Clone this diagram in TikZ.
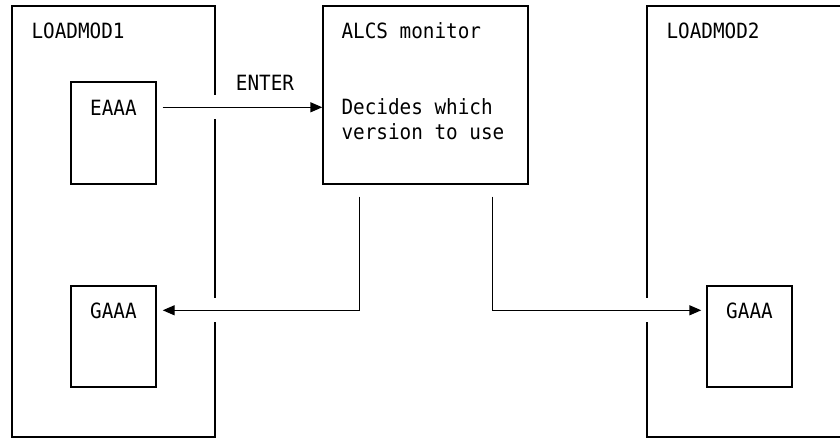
\documentclass[tikz,border=0pt]{standalone}
\usepackage{fontspec}
\setmonofont[FakeStretch=0.92]{DejaVu Sans Mono}
\usetikzlibrary{arrows.meta,calc,positioning}

\tikzset{
  modbox/.style={draw, line width=1.4pt, inner sep=0pt, minimum width=#1, minimum height=431pt},
  progbox/.style={draw, line width=1.4pt, inner sep=0pt, minimum width=85pt, minimum height=101pt},
  lbl/.style={inner sep=0pt, anchor=base west, font=\ttfamily\fontsize{21}{25}\selectfont},
  flow/.style={line width=1.4pt, -{Triangle[length=12pt,width=10pt]}},
  gap/.style={draw=white, line width=4pt}
}

\begin{document}
\begin{tikzpicture}[x=1pt, y=-1pt]
    \useasboundingbox (0,0) rectangle (840,438);

    % load modules
    \node[modbox=203pt] (lm1) at (113.5,221.5) {};
    \node[modbox=213pt] (lm2) at (753.5,221.5) {};
    \node[lbl] (lm1name) at ($(lm1.north west)+(20,33)$) {LOADMOD1};
    \node[lbl] (lm2name) at ($(lm2.north west)+(20,33)$) {LOADMOD2};

    % monitor
    \node[draw, line width=1.4pt, inner sep=0pt, minimum width=205pt, minimum height=178pt] (alcs) at (425.5,95) {};
    \node[lbl] (alcsname) at ($(alcs.north west)+(19,33)$) {ALCS monitor};
    \node[lbl, align=left] (alcstext) at ($(alcs.north west)+(19,134)$) {Decides which\\version to use};

    % programs
    \node[progbox, minimum height=102pt] (eaaa) at (113.5,133) {};
    \node[progbox] (gaaal) at (113.5,336.5) {};
    \node[progbox] (gaaar) at (749.5,336.5) {};
    \node[lbl, anchor=base] at ($(eaaa.north)+(0,34)$) {EAAA};
    \node[lbl, anchor=base] at ($(gaaal.north)+(0,33)$) {GAAA};
    \node[lbl, anchor=base] at ($(gaaar.north)+(0,33)$) {GAAA};

    % arrow end points
    \coordinate (enterstart) at ($(eaaa.north east)+(6,26)$);
    \coordinate (ldrop) at ($(alcs.south west)+(37,12)$);
    \coordinate (rdrop) at ($(alcs.south east)+(-36,12)$);
    \coordinate (lend) at ($(gaaal.north east)+(6,25)$);
    \coordinate (rend) at ($(gaaar.north west)+(-5,25)$);

    % breaks in the module borders
    \draw[gap] ($(enterstart -| lm1.east)+(0,-12)$) -- +(0,24);
    \draw[gap] ($(lend -| lm1.east)+(0,-12)$) -- +(0,24);
    \draw[gap] ($(rend -| lm2.west)+(0,-12)$) -- +(0,24);

    % flows
    \draw[flow] (enterstart) -- (enterstart -| alcs.west);
    \node[lbl] (enterlbl) at ($(enterstart)+(73,-17)$) {ENTER};
    \draw[flow] (ldrop) |- (lend);
    \draw[flow] (rdrop) |- (rend);
\end{tikzpicture}
\end{document}
